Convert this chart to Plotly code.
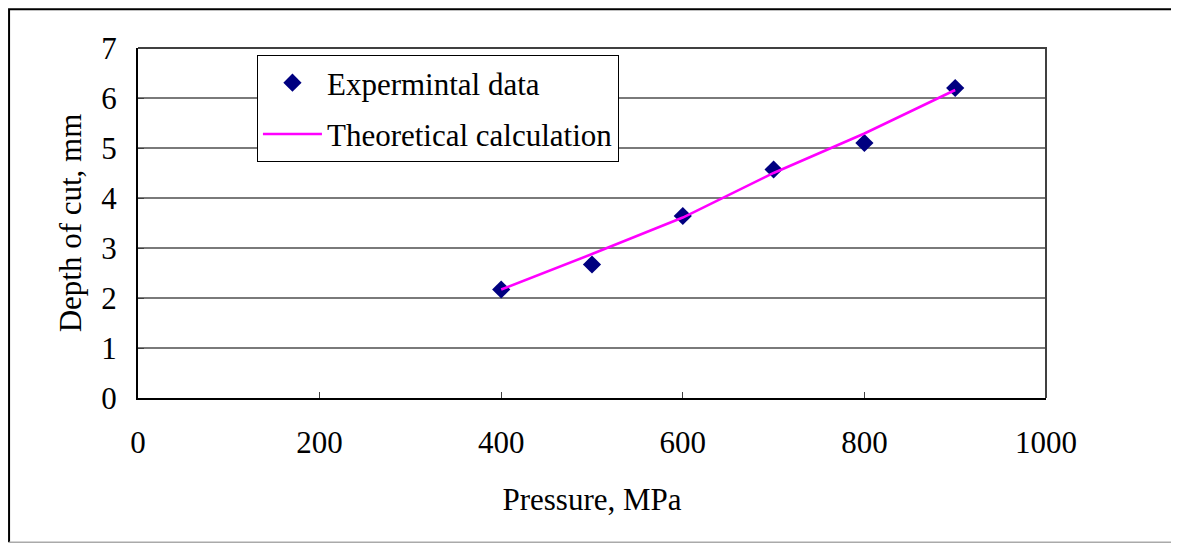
import plotly.graph_objects as go

# experimental points (MPa, mm)
pressure = [400, 500, 600, 700, 800, 900]
depth_exp = [2.17, 2.67, 3.64, 4.57, 5.10, 6.20]
# theoretical curve
depth_theory = [2.17, 2.88, 3.61, 4.50, 5.29, 6.16]

x_ticks = [0, 200, 400, 600, 800, 1000]
y_ticks = [0, 1, 2, 3, 4, 5, 6, 7]

FONT = "Liberation Serif, Times New Roman, serif"
FS = 31

fig = go.Figure()
fig.add_trace(go.Scatter(
    x=pressure, y=depth_exp, mode="markers", name="Expermintal data",
    marker=dict(symbol="diamond", size=14, color="#000080"),
    legendgroup="a",
))
fig.add_trace(go.Scatter(
    x=pressure, y=depth_theory, mode="lines", name="Theoretical calculation",
    line=dict(color="#FF00FF", width=2.5),
    legendgroup="b",
))

axis_common = dict(
    showline=True, linecolor="black", linewidth=2, mirror=False,
    ticks="inside", ticklen=6, tickcolor="#404040", tickwidth=1,
    tickfont=dict(family=FONT, size=FS, color="black"),
    zeroline=False,
)

fig.update_xaxes(
    range=[0, 1000], tickvals=x_ticks, showgrid=False,
    title=dict(text="Pressure, MPa", font=dict(family=FONT, size=FS, color="black"), standoff=29),
    ticklabelstandoff=16,
    **axis_common,
)
fig.update_yaxes(
    range=[0, 7], tickvals=y_ticks, showgrid=True, gridcolor="#7a7a7a", gridwidth=1.5,
    title=dict(text="Depth of cut, mm", font=dict(family=FONT, size=FS, color="black"), standoff=10),
    ticklabelstandoff=13,
    **axis_common,
)

# plot frame (top/right darker gray)
fig.add_shape(type="path", xref="paper", yref="paper", path="M 0,1 L 1,1 L 1,0",
              line=dict(color="#404040", width=2))
# outer chart border: left and top black, bottom light gray
fig.add_shape(type="path", xref="paper", yref="paper", path="M -0.142,-0.412 L -0.142,1.111 L 1.3,1.111",
              line=dict(color="black", width=2))
fig.add_shape(type="path", xref="paper", yref="paper", path="M -0.142,-0.412 L 1.3,-0.412",
              line=dict(color="#aaaaaa", width=1.5))

# page body adds an 8px margin, so the figure is sized to fit the window without scrollbars
fig.update_layout(
    width=1163, height=536,
    margin=dict(l=130, r=125, t=40, b=146),
    paper_bgcolor="white", plot_bgcolor="white",
    font=dict(family=FONT, size=FS, color="black"),
    legend=dict(
        x=0.131, y=0.98, xanchor="left", yanchor="top",
        bgcolor="white", bordercolor="black", borderwidth=1,
        font=dict(family=FONT, size=FS, color="black"),
        tracegroupgap=8, itemwidth=59,
    ),
)

fig.write_html("out.html")
